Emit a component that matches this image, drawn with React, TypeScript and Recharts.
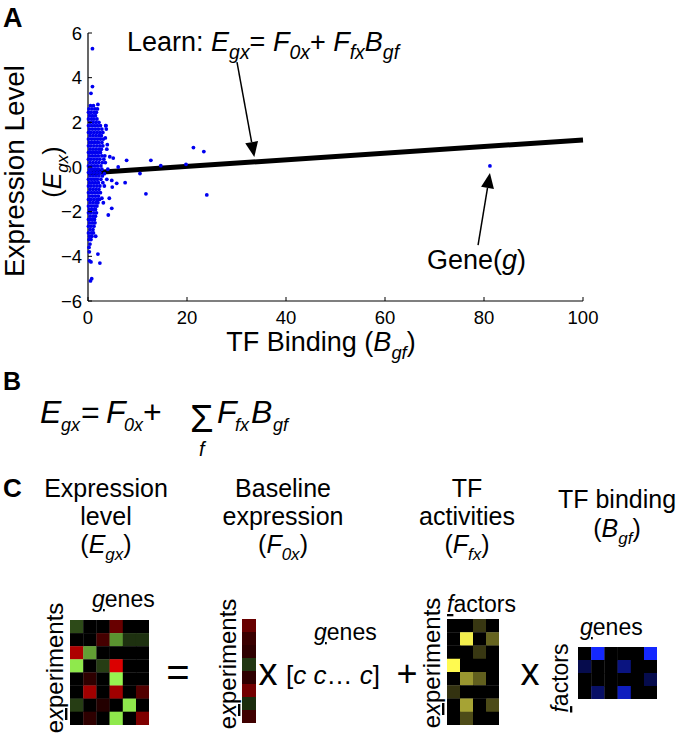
import React from 'react';
import { ScatterChart, Scatter, XAxis, YAxis, ReferenceLine } from 'recharts';

const FONT = '"Liberation Sans", Arial, Helvetica, sans-serif';

// panel A: dense cluster read as rows (y, x values)
const clusterRows: [number, number[]][] = [
  [2.75, [0.5, 1.1]],
  [2.6, [0.2, 0.8, 1.4, 1.9]],
  [2.45, [0.1, 0.6, 1.2, 1.7]],
  [2.3, [0.3, 0.9, 1.5]],
  [2.15, [0.1, 0.7, 1.2, 1.8]],
  [2.0, [0.4, 1.0, 1.6, 2.2]],
  [1.85, [0.1, 0.7, 1.3, 1.9, 2.5, 3.6]],
  [1.7, [0.3, 0.9, 1.5, 2.1, 2.8]],
  [1.55, [0.1, 0.6, 1.2, 1.8, 2.4, 3.0]],
  [1.4, [0.4, 1.0, 1.6, 2.2, 2.7]],
  [1.25, [0.1, 0.7, 1.3, 1.9, 2.5, 3.1]],
  [1.1, [0.3, 0.9, 1.5, 2.1, 2.8]],
  [0.95, [0.1, 0.6, 1.2, 1.8, 2.4, 3.0]],
  [0.8, [0.4, 1.0, 1.6, 2.2, 2.7]],
  [0.65, [0.1, 0.7, 1.3, 1.9, 2.5]],
  [0.5, [0.3, 0.9, 1.5, 2.1, 2.8, 3.4]],
  [0.35, [0.1, 0.6, 1.2, 1.8, 2.4, 3.2]],
  [0.2, [0.4, 1.0, 1.6, 2.2, 2.9]],
  [0.05, [0.1, 0.7, 1.3, 1.9, 2.6]],
  [-0.1, [0.3, 0.9, 1.5, 2.1, 2.8]],
  [-0.25, [0.1, 0.6, 1.2, 1.8, 2.4]],
  [-0.4, [0.4, 1.0, 1.6, 2.2, 2.9]],
  [-0.55, [0.1, 0.7, 1.3, 1.9, 2.6, 3.8]],
  [-0.7, [0.3, 0.9, 1.5, 2.1, 3.0]],
  [-0.85, [0.1, 0.6, 1.2, 1.8, 2.4, 3.3]],
  [-1.0, [0.4, 1.0, 1.6, 2.2]],
  [-1.15, [0.1, 0.7, 1.3, 1.9, 2.5]],
  [-1.3, [0.3, 0.9, 1.5, 2.1]],
  [-1.45, [0.1, 0.6, 1.2, 1.8, 2.3]],
  [-1.6, [0.4, 1.0, 1.6, 2.0]],
  [-1.75, [0.1, 0.7, 1.3, 1.8]],
  [-1.9, [0.3, 0.9, 1.5]],
  [-2.05, [0.1, 0.6, 1.2, 1.7]],
  [-2.2, [0.4, 1.0, 1.5]],
  [-2.35, [0.1, 0.7, 1.3]],
  [-2.5, [0.3, 0.9, 1.4]],
  [-2.65, [0.1, 0.6, 1.2]],
  [-2.8, [0.4, 1.0]],
  [-2.95, [0.1, 0.7, 1.1]],
  [-3.1, [0.3, 0.8]],
  [-3.25, [0.2, 0.6]],
  [-3.45, [0.4]],
  [-3.6, [0.2]],
];

const outliers: [number, number][] = [
  [0.9, 5.3], [0.9, 3.6], [0.6, 3.3], [2.0, 2.8], [3.6, 1.85], [3.7, 1.7], [3.5, 1.3],
  [3.9, 1.0], [3.8, 0.8], [4.4, 0.46], [5.1, 0.4], [6.1, 0.0], [7.8, 0.3], [12.7, 0.3],
  [14.7, 0.06], [19.8, 0.12], [21.3, 0.87], [23.4, 0.69], [10.5, -0.29], [11.7, -1.2],
  [24.0, -1.25], [7.5, -0.7], [5.8, -0.73], [4.8, -0.6], [4.9, -0.9], [4.3, -1.4],
  [4.8, -1.85], [4.1, -2.15], [2.8, -1.4], [3.1, -1.6], [1.55, -3.1], [2.0, -3.9],
  [2.4, -4.3], [0.27, -3.8], [0.3, -4.2], [0.6, -4.25], [0.75, -5.0], [0.5, -5.1],
  [3.3, -0.3], [3.5, 0.2], [4.0, -0.1], [81.2, 0.05],
];

const fitLine = [{ x: 0, y: -0.27 }, { x: 100, y: 1.21 }];
const learnArrow = [{ x: 30.1, y: 4.7 }, { x: 33.6, y: 0.45 }];
const geneArrow = [{ x: 78.8, y: -3.5 }, { x: 81.2, y: -0.27 }];

const xTicks = [0, 20, 40, 60, 80, 100];
const yTicks = [-6, -4, -2, 0, 2, 4, 6];

// panel C matrices
const exprValues = [
  [-0.3, 0, 0, 0.45, 0, 0],
  [0, 0, 0.3, -0.6, -0.2, -0.2],
  [0.75, -0.65, 0, 0, 0, 0],
  [-0.95, 0, -0.25, 0.95, 0, 0],
  [0, 0.2, 0, -1.0, 0, 0],
  [0, 0.7, 0, 0.7, 0, 0.35],
  [-0.25, 0, 0.15, 0, -0.95, 0],
  [0, 0.2, 0, -0.95, 0, 0.55],
];
const baselineValues = [[0.45], [0.25], [0.2], [-0.22], [0.2], [0.5], [-0.18], [0.28]];
const activityValues = [
  [0, 0, 0.22, 0],
  [0, 0.95, 0, 0.4],
  [0, 0, 0.22, 0],
  [1, 0, 0, 0],
  [0, 0.6, 0.38, 0],
  [0.2, 0, 0, 0],
  [0, 0.65, 0, 0.3],
  [0, 0.3, 0, 0],
];
const bindingValues = [
  [0, 1, 0, 0, 0, 1],
  [0.3, 0, 0, 0.5, 0, 0],
  [0, 0, 0, 0, 0, 0.3],
  [0, 0.4, 0, 0.75, 0, 0],
];

const rgb = (r: number, g: number, b: number) =>
  `rgb(${Math.round(r)},${Math.round(g)},${Math.round(b)})`;
const redGreen = (v: number) => (v >= 0 ? rgb(230 * v, 0, 0) : rgb(-150 * v, -245 * v, -80 * v));
const yellow = (v: number) => rgb(255 * v, 250 * v, 80 * v);
const blue = (v: number) => rgb(20 * v, 40 * v, 255 * v);

type Seg = { t: string; i?: boolean; sub?: boolean; u?: boolean };

function Rich({ x = 0, y = 0, size, segs, anchor = 'start', transform, weight, subScale = 0.68, length }: any) {
  let shifted = false;
  return (
    <text x={x} y={y} fontSize={size} textAnchor={anchor} transform={transform}
      fontFamily={FONT} fontWeight={weight} fill="#000"
      textLength={length} lengthAdjust={length ? 'spacingAndGlyphs' : undefined}>
      {(segs as Seg[]).map((s, k) => {
        let dy = 0;
        if (s.sub && !shifted) dy = size * 0.28;
        if (!s.sub && shifted) dy = -size * 0.28;
        shifted = !!s.sub;
        return (
          <tspan key={k} dy={dy || undefined} fontStyle={s.i ? 'italic' : undefined}
            fontSize={s.sub ? size * subScale : undefined}
            style={s.u ? { textDecoration: 'underline', textDecorationSkipInk: 'none' } : undefined}>
            {s.t}
          </tspan>
        );
      })}
    </text>
  );
}

// a single symbol of the panel B equation, placed at x
const Sym = ({ x, y, t, size = 32, italic = true }: any) => (
  <text x={x} y={y} fontSize={size} fontFamily={FONT} fill="#000" fontStyle={italic ? 'italic' : undefined}>
    {t}
  </text>
);

const XTick = ({ x, y, payload }: any) => (
  <g>
    <line x1={x} y1={y} x2={x} y2={y - 4} stroke="#000" />
    <text x={x} y={y + 23} textAnchor="middle" fontSize={18.5} fontFamily={FONT} fill="#000">
      {payload.value}
    </text>
  </g>
);

const YTick = ({ x, y, payload }: any) => (
  <g>
    <line x1={x} y1={y} x2={x + 4} y2={y} stroke="#000" />
    <text x={x - 6} y={y + 6.5} textAnchor="end" fontSize={18.5} fontFamily={FONT} fill="#000">
      {String(payload.value).replace('-', '\u2212')}
    </text>
  </g>
);

const Arrow = (p: any) => {
  const { x1, y1, x2, y2 } = p;
  const dx = x2 - x1, dy = y2 - y1;
  const len = Math.hypot(dx, dy);
  const ux = dx / len, uy = dy / len;
  const hl = 15, hw = 6.5;
  const bx = x2 - ux * hl, by = y2 - uy * hl;
  return (
    <g>
      <line x1={x1} y1={y1} x2={bx} y2={by} stroke="#000" strokeWidth={1.5} />
      <polygon points={`${x2},${y2} ${bx - uy * hw},${by + ux * hw} ${bx + uy * hw},${by - ux * hw}`} fill="#000" />
    </g>
  );
};

const scatterData = [
  ...clusterRows.flatMap(([y, xs]) => xs.map((x) => ({ x, y }))),
  ...outliers.map(([x, y]) => ({ x, y })),
];

function Heatmap({ values, left, top, cw, ch, color }: any) {
  const rows = values.length;
  const cols = values[0].length;
  const data = (values as number[][]).flatMap((row, r) => row.map((v, c) => ({ x: c + 0.5, y: r + 0.5, v })));
  return (
    <div style={{ position: 'absolute', left, top }}>
      <ScatterChart width={cols * cw} height={rows * ch} margin={{ top: 0, right: 0, bottom: 0, left: 0 }}>
        <XAxis type="number" dataKey="x" domain={[0, cols]} hide />
        <YAxis type="number" dataKey="y" domain={[0, rows]} reversed hide />
        <Scatter data={data} isAnimationActive={false}
          shape={(p: any) => (
            <rect x={p.cx - cw / 2} y={p.cy - ch / 2} width={cw + 0.3} height={ch + 0.3}
              fill={color(p.payload ? p.payload.v : p.v)} />
          )} />
      </ScatterChart>
    </div>
  );
}

const under = (a: string, b: string, c: string): Seg[] => [{ t: a }, { t: b, i: true, u: true }, { t: c }];

export default function App() {
  return (
    <div style={{ position: 'absolute', left: 0, top: 0, width: 677, height: 742, background: '#fff', overflow: 'hidden' }}>
      <div style={{ position: 'absolute', left: 0, top: 0 }}>
        <ScatterChart width={640} height={340} margin={{ top: 33, right: 57, bottom: 0, left: 0 }}>
          <XAxis type="number" dataKey="x" domain={[0, 100]} ticks={xTicks} interval={0} height={39}
            tickSize={0} tickMargin={0} tickLine={false} tick={<XTick />}
            axisLine={{ stroke: '#000', strokeWidth: 1.2 }} />
          <YAxis type="number" dataKey="y" domain={[-6, 6]} ticks={yTicks} interval={0} width={88}
            tickSize={0} tickMargin={0} tickLine={false} tick={<YTick />}
            axisLine={{ stroke: '#000', strokeWidth: 1.2 }} />
          <Scatter data={scatterData} isAnimationActive={false}
            shape={(p: any) => <circle cx={p.cx} cy={p.cy} r={1.9} fill="#0000f0" />} />
          <ReferenceLine segment={fitLine} stroke="#000" strokeWidth={5} ifOverflow="visible" />
          <ReferenceLine segment={learnArrow} shape={Arrow} ifOverflow="visible" />
          <ReferenceLine segment={geneArrow} shape={Arrow} ifOverflow="visible" />
        </ScatterChart>
      </div>

      <Heatmap values={exprValues} left={70} top={620} cw={13.2} ch={13.1} color={redGreen} />
      <Heatmap values={baselineValues} left={242} top={619} cw={14} ch={13} color={redGreen} />
      <Heatmap values={activityValues} left={447} top={619} cw={13} ch={13.25} color={yellow} />
      <Heatmap values={bindingValues} left={578} top={647} cw={13.2} ch={13} color={blue} />

      <svg width={677} height={742} style={{ position: 'absolute', left: 0, top: 0, pointerEvents: 'none' }}>
        {/* panel A */}
        <Rich x={3} y={27} size={27} weight="bold" segs={[{ t: 'A' }]} />
        <Rich x={127} y={51} size={27} subScale={0.72} segs={[
          { t: 'Learn: ' }, { t: 'E', i: true }, { t: 'gx', i: true, sub: true }, { t: '= ' },
          { t: 'F', i: true }, { t: '0x', i: true, sub: true }, { t: '+ ' }, { t: 'F', i: true },
          { t: 'fx', i: true, sub: true }, { t: 'B', i: true }, { t: 'gf', i: true, sub: true },
        ]} />
        <Rich x={427} y={269} size={27} segs={[{ t: 'Gene(' }, { t: 'g', i: true }, { t: ')' }]} />
        <Rich size={27} anchor="middle" length={212} transform="translate(24,171) rotate(-90)"
          segs={[{ t: 'Expression Level' }]} />
        <Rich size={25} anchor="middle" transform="translate(61,172) rotate(-90)"
          segs={[{ t: '(' }, { t: 'E', i: true }, { t: 'gx', i: true, sub: true }, { t: ')' }]} />
        <Rich x={321} y={351} size={27} anchor="middle"
          segs={[{ t: 'TF Binding (' }, { t: 'B', i: true }, { t: 'gf', i: true, sub: true }, { t: ')' }]} />

        {/* panel B */}
        <Rich x={3} y={390} size={25} weight="bold" segs={[{ t: 'B' }]} />
        <Sym x={40} y={423} t="E" />
        <Sym x={61} y={431} t="gx" size={18} />
        <Sym x={81} y={423} t="=" italic={false} />
        <Sym x={106} y={423} t="F" />
        <Sym x={124} y={431} t="0x" size={18} />
        <Sym x={143} y={423} t="+" italic={false} />
        <text x={190} y={432} fontSize={38} fontFamily={FONT} fill="#000">{'\u03A3'}</text>
        <Sym x={199} y={456} t="f" size={20} />
        <Sym x={217} y={423} t="F" />
        <Sym x={235} y={431} t="fx" size={18} />
        <Sym x={251} y={423} t="B" />
        <Sym x={273} y={431} t="gf" size={18} />

        {/* panel C headings */}
        <Rich x={3} y={497} size={26} weight="bold" segs={[{ t: 'C' }]} />
        <Rich x={106} y={497} size={25} anchor="middle" segs={[{ t: 'Expression' }]} />
        <Rich x={106} y={525} size={25} anchor="middle" segs={[{ t: 'level' }]} />
        <Rich x={106} y={553} size={25} anchor="middle"
          segs={[{ t: '(' }, { t: 'E', i: true }, { t: 'gx', i: true, sub: true }, { t: ')' }]} />
        <Rich x={283} y={497} size={25} anchor="middle" segs={[{ t: 'Baseline' }]} />
        <Rich x={283} y={525} size={25} anchor="middle" segs={[{ t: 'expression' }]} />
        <Rich x={283} y={553} size={25} anchor="middle"
          segs={[{ t: '(' }, { t: 'F', i: true }, { t: '0x', i: true, sub: true }, { t: ')' }]} />
        <Rich x={467} y={497} size={25} anchor="middle" segs={[{ t: 'TF' }]} />
        <Rich x={467} y={525} size={25} anchor="middle" segs={[{ t: 'activities' }]} />
        <Rich x={467} y={553} size={25} anchor="middle"
          segs={[{ t: '(' }, { t: 'F', i: true }, { t: 'fx', i: true, sub: true }, { t: ')' }]} />
        <Rich x={617} y={508} size={25} anchor="middle" segs={[{ t: 'TF binding' }]} />
        <Rich x={617} y={537} size={25} anchor="middle"
          segs={[{ t: '(' }, { t: 'B', i: true }, { t: 'gf', i: true, sub: true }, { t: ')' }]} />

        {/* panel C matrix labels */}
        <Rich x={92} y={607} size={23} segs={under('', 'g', 'enes')} />
        <Rich size={24} anchor="middle" transform="translate(63,668) rotate(-90)" segs={under('e', 'x', 'periments')} />
        <Rich x={178} y={686} size={40} anchor="middle" segs={[{ t: '=' }]} />
        <Rich size={24} anchor="middle" transform="translate(236,664) rotate(-90)" segs={under('e', 'x', 'periments')} />
        <Rich x={268} y={685} size={38} anchor="middle" segs={[{ t: 'x' }]} />
        <Rich x={314} y={640} size={23} segs={under('', 'g', 'enes')} />
        <Rich x={286} y={684} size={26} segs={[{ t: '[' }, { t: 'c c', i: true }, { t: '\u2026 ' }, { t: 'c', i: true }, { t: ']' }]} />
        <Rich x={407} y={686} size={36} anchor="middle" segs={[{ t: '+' }]} />
        <Rich size={24} anchor="middle" transform="translate(440,663) rotate(-90)" segs={under('e', 'x', 'periments')} />
        <Rich x={447} y={612} size={23} segs={under('', 'f', 'actors')} />
        <Rich x={530} y={685} size={38} anchor="middle" segs={[{ t: 'x' }]} />
        <Rich x={580} y={635} size={23} segs={under('', 'g', 'enes')} />
        <Rich size={23} anchor="middle" transform="translate(568,678) rotate(-90)" segs={under('', 'f', 'actors')} />
      </svg>
    </div>
  );
}
